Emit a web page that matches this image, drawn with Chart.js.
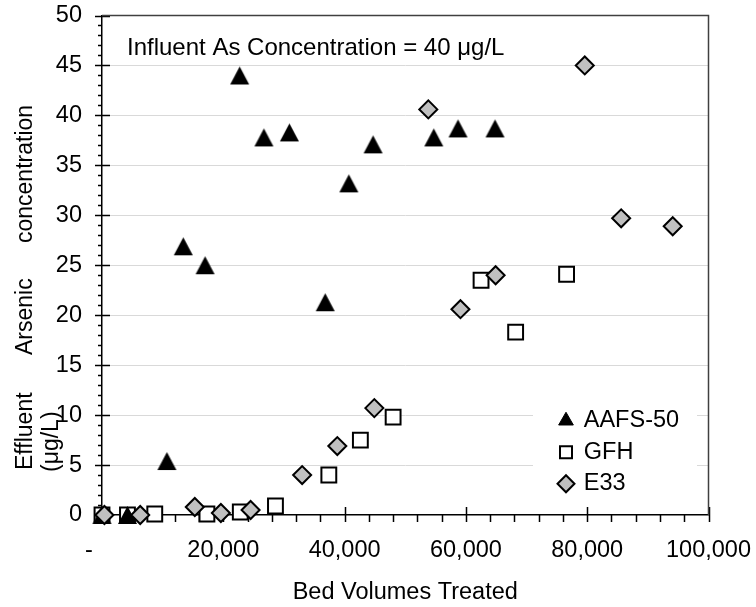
<!DOCTYPE html>
<html>
<head>
<meta charset="utf-8">
<script src="https://cdn.jsdelivr.net/npm/chart.js@4/dist/chart.umd.min.js"></script>
<style>
html,body{margin:0;padding:0;background:#fff;}
#c{display:block;}
</style>
</head>
<body>
<canvas id="c" width="756" height="607"></canvas>
<script>
// ---- data ----
const seriesNames = ['AAFS-50', 'GFH', 'E33'];

const aafsX = [0, 4200, 10700, 13400, 17000, 22700, 26700, 30900, 36800, 40700, 44700, 54700, 58700, 64800];
const aafsY = [0, 0, 5.4, 26.9, 25.0, 44.0, 37.8, 38.3, 21.3, 33.2, 37.1, 37.8, 38.7, 38.7];

const gfhX = [0, 4200, 8700, 17300, 22800, 28600, 37400, 42600, 48000, 62500, 68200, 76600];
const gfhY = [0, 0, 0.1, 0.1, 0.3, 0.9, 4.0, 7.5, 9.8, 23.5, 18.3, 24.1];

const e33X = [400, 6300, 15300, 19600, 24500, 33000, 38800, 44900, 53800, 59100, 64900, 79600, 85600, 94100];
const e33Y = [0, 0, 0.8, 0.2, 0.5, 4.0, 6.9, 10.7, 40.6, 20.6, 24.0, 45.0, 29.7, 28.9];

const xTitle = 'Bed Volumes Treated';
const yTitleWords = ['Effluent', 'Arsenic', 'concentration'];
const yTitleUnit = '(μg/L)';
const noteText = 'Influent As Concentration = 40 μg/L';

const FONT = "'Liberation Sans', Arial, sans-serif";
const FS = 23.5;
Chart.defaults.font.family = FONT;
Chart.defaults.font.size = FS;
Chart.defaults.color = '#000';

const toPts = (xs, ys) => xs.map((x, i) => ({x: x, y: ys[i]}));

// triangle marker centred on its bounding box (as in the original chart)
function triangleMarker(w, h) {
  const cv = document.createElement('canvas');
  cv.width = w + 2; cv.height = h + 2;
  const g = cv.getContext('2d');
  g.fillStyle = '#000';
  g.beginPath();
  g.moveTo(cv.width / 2, 1);
  g.lineTo(cv.width - 1, h + 1);
  g.lineTo(1, h + 1);
  g.closePath();
  g.fill();
  return cv;
}
const triImg = triangleMarker(19, 18);

const decor = {
  id: 'decor',
  beforeUpdate(chart) {
    const lg = chart.legend;
    if (lg && !lg._patched) {
      lg._patched = true;
      lg._layers = () => [{z: 1, draw: (ca) => {
        const c = chart.ctx;
        c.save();
        c.fillStyle = '#fff';
        c.fillRect(533, 396, 164, 106);
        c.restore();
        lg.draw(ca);
      }}];
    }
  },
  afterLayout(chart) {
    const lg = chart.legend;
    if (!lg) return;
    const w = lg.width;
    lg.left = 552; lg.right = 552 + w;
    lg.top = 401; lg.bottom = 401 + 110;
  },
  beforeDatasetsDraw(chart) {
    const c = chart.ctx, xs = chart.scales.x, ys = chart.scales.y, a = chart.chartArea;
    c.save();
    c.strokeStyle = '#000';
    c.lineWidth = 1.5;
    c.beginPath();
    for (let v = 0; v <= 50; v += 1) {
      const py = Math.round(ys.getPixelForValue(v)) + 0.5;
      if (v % 5 === 0) { c.moveTo(a.left - 7, py); c.lineTo(a.left + 8, py); }
      else { c.moveTo(a.left - 4, py); c.lineTo(a.left, py); }
    }
    for (let v = 0; v <= 100000; v += 4000) {
      const px = Math.round(xs.getPixelForValue(v)) + 0.5;
      if (v % 20000 === 0) { c.moveTo(px, a.bottom - 8); c.lineTo(px, a.bottom + 7); }
      else { c.moveTo(px, a.bottom); c.lineTo(px, a.bottom + 7); }
    }
    c.stroke();
    c.strokeStyle = '#404040';
    c.lineWidth = 1.5;
    c.beginPath();
    c.moveTo(a.left, a.top); c.lineTo(a.right, a.top); c.lineTo(a.right, a.bottom);
    c.stroke();
    c.restore();
  },
  afterDraw(chart) {
    const c = chart.ctx;
    c.save();
    c.fillStyle = '#000';
    c.font = '24px ' + FONT;
    c.textAlign = 'left';
    c.textBaseline = 'alphabetic';
    c.fillText(noteText, 127, 55);
    c.font = '23px ' + FONT;
    const vtext = (t, xb, ys) => {
      c.save(); c.translate(xb, ys); c.rotate(-Math.PI / 2); c.fillText(t, 0, 0); c.restore();
    };
    vtext(yTitleWords[0], 32, 470);
    vtext(yTitleWords[1], 32, 355);
    vtext(yTitleWords[2], 32, 243);
    vtext(yTitleUnit, 58, 472);
    c.restore();
  }
};

new Chart(document.getElementById('c'), {
  type: 'scatter',
  data: {
    datasets: [
      {label: seriesNames[0], data: toPts(aafsX, aafsY), pointStyle: triImg, pointRadius: 11,
       backgroundColor: '#000', borderColor: '#000', borderWidth: 1, order: 2, clip: false},
      {label: seriesNames[1], data: toPts(gfhX, gfhY), pointStyle: 'rect', pointRadius: 10.5,
       backgroundColor: '#fff', borderColor: '#000', borderWidth: 2, order: 3, clip: false},
      {label: seriesNames[2], data: toPts(e33X, e33Y), pointStyle: 'rectRot', pointRadius: 9,
       backgroundColor: '#c0c0c0', borderColor: '#000', borderWidth: 2, order: 1, clip: false}
    ]
  },
  options: {
    responsive: false,
    animation: false,
    devicePixelRatio: 1,
    layout: {padding: {top: 15.5, right: 47.5, bottom: 0, left: 0}},
    plugins: {
      legend: {
        position: 'chartArea',
        align: 'start',
        labels: {
          usePointStyle: true, boxWidth: 12, boxHeight: 12, padding: 8,
          font: {size: FS, family: FONT}, color: '#000',
          sort: (a, b) => a.datasetIndex - b.datasetIndex,
          generateLabels: (chart) => {
            const items = Chart.defaults.plugins.legend.labels.generateLabels(chart);
            items.forEach((it) => { if (it.datasetIndex === 0) it.pointStyle = 'triangle'; });
            return items;
          }
        }
      },
      tooltip: {enabled: false}
    },
    scales: {
      x: {
        type: 'linear', min: 0, max: 100000,
        afterFit: (s) => { s.height = 92; s.paddingLeft = 0; s.paddingRight = 0; },
        ticks: {stepSize: 20000, padding: 13, maxRotation: 0, autoSkip: false,
                callback: (v) => v === 0 ? '-    ' : v.toLocaleString('en-US')},
        grid: {display: false},
        border: {display: true, color: '#000', width: 1.5},
        title: {display: true, text: xTitle, padding: {top: 0, bottom: 0}, font: {size: FS}}
      },
      y: {
        type: 'linear', min: 0, max: 50,
        afterFit: (s) => { s.width = 102; s.paddingTop = 0; s.paddingBottom = 0; },
        ticks: {stepSize: 5, padding: 20, autoSkip: false},
        grid: {drawTicks: false, lineWidth: 1,
               color: (ctx) => (ctx.tick && ctx.tick.value > 0 && ctx.tick.value < 50) ? '#d9d9d9' : 'rgba(0,0,0,0)'},
        border: {display: true, color: '#000', width: 1.5}
      }
    }
  },
  plugins: [decor]
});
</script>
</body>
</html>
